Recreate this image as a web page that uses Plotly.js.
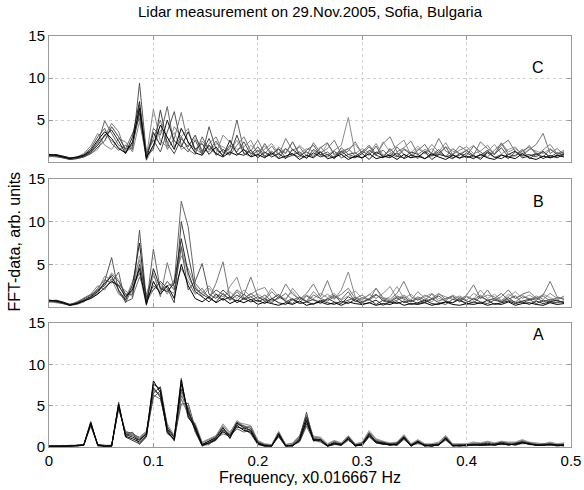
<!DOCTYPE html>
<html>
<head>
<meta charset="utf-8">
<script src="https://cdn.plot.ly/plotly-3.0.1.min.js"></script>
<style>html,body{margin:0;padding:0;background:#fff;}#chart{width:584px;height:490px;}</style>
</head>
<body>
<div id="chart"></div>
<script>
// Frequency bins (x0.016667 Hz), step 1/150
const freq = [0,0.0067,0.0133,0.02,0.0267,0.0333,0.04,0.0467,0.0533,0.06,
0.0667,0.0733,0.08,0.0867,0.0933,0.1,0.1067,0.1133,0.12,0.1267,
0.1333,0.14,0.1467,0.1533,0.16,0.1667,0.1733,0.18,0.1867,0.1933,
0.2,0.2067,0.2133,0.22,0.2267,0.2333,0.24,0.2467,0.2533,0.26,
0.2667,0.2733,0.28,0.2867,0.2933,0.3,0.3067,0.3133,0.32,0.3267,
0.3333,0.34,0.3467,0.3533,0.36,0.3667,0.3733,0.38,0.3867,0.3933,
0.4,0.4067,0.4133,0.42,0.4267,0.4333,0.44,0.4467,0.4533,0.46,
0.4667,0.4733,0.48,0.4867,0.4933];

const xTicks = [0,0.1,0.2,0.3,0.4,0.5];
const xTickText = ["0","0.1","0.2","0.3","0.4","0.5"];
const yTicksA = [0,5,10,15];
const yTicksBC = [5,10,15];
const panelLabels = ["C","B","A"];

// Panel C series
const c1 = [0.9,0.8,0.6,0.4,0.6,0.8,1.4,2.6,3.6,2.8, 1.6,1.1,2.4,6.4,0.5,2.0,4.4,3.0,1.5,4.0, 2.4,1.1,0.8,2.0,1.0,0.6,1.2,0.8,1.5,0.6, 0.9,0.5,1.1,0.4,0.7,1.0,0.3,0.8,0.5,1.2, 0.4,0.6,0.9,0.3,0.7,0.5,1.0,0.4,0.6,0.8, 0.3,0.9,0.5,0.7,0.4,1.0,0.6,0.3,0.8,0.5, 0.7,0.4,0.9,0.5,0.3,0.8,0.6,0.4,1.0,0.5, 0.3,0.7,0.5,0.8,0.6];
const c2 = [0.8,0.9,0.7,0.5,0.5,0.7,1.2,2.0,3.2,3.8, 2.5,1.0,3.0,7.2,0.3,3.5,2.0,5.0,2.5,1.8, 3.6,1.5,2.2,0.9,1.8,0.7,2.6,1.0,0.8,1.4, 0.5,1.2,0.6,1.0,0.4,1.5,0.8,0.5,1.1,0.6, 0.9,0.4,1.3,0.6,0.5,1.0,0.3,1.2,0.7,0.5, 1.1,0.4,0.8,0.6,1.2,0.3,0.9,0.7,0.4,1.0, 0.5,0.8,0.3,1.1,0.6,0.4,0.9,1.3,0.5,0.7, 1.0,0.4,0.8,0.5,0.9];
const c3 = [0.7,0.8,0.6,0.3,0.4,0.6,1.0,1.8,2.5,4.2, 3.0,1.5,2.0,5.8,0.8,1.5,6.2,2.2,1.0,2.8, 1.8,3.2,1.2,2.8,0.8,1.5,0.9,3.2,1.0,0.7, 1.4,0.6,0.9,1.6,0.5,0.8,1.2,0.4,1.5,0.9, 0.6,1.3,0.5,0.9,1.1,0.4,1.4,0.8,0.5,1.6, 0.7,0.5,1.2,0.9,0.4,0.8,1.5,0.6,0.9,0.4, 1.1,0.6,0.8,1.4,0.5,0.9,0.4,1.2,0.7,0.9, 0.6,1.3,0.5,0.7,1.0];
const c4 = [0.8,0.7,0.5,0.4,0.5,0.9,1.6,3.0,4.0,2.2, 1.4,2.0,1.5,9.4,1.0,2.6,1.2,3.6,6.0,2.0, 1.2,2.6,0.9,4.2,1.5,0.8,2.0,1.2,2.4,0.9, 1.8,0.7,1.3,0.5,1.6,0.9,0.6,1.4,2.0,0.8, 1.2,0.5,1.7,0.9,0.6,1.3,0.8,1.9,0.5,1.0, 0.6,1.5,0.9,0.4,1.3,0.7,1.0,1.8,0.5,0.8, 1.4,0.7,0.5,1.2,0.9,1.7,0.6,0.8,1.5,0.4, 0.9,1.2,0.6,1.1,0.8];
const c5 = [0.9,0.8,0.7,0.5,0.6,0.8,1.3,2.2,4.9,3.4, 2.0,1.6,3.5,5.2,0.4,4.0,3.2,6.6,1.8,3.0, 1.5,0.9,3.0,1.4,2.5,1.1,1.6,5.0,1.4,1.1, 0.7,2.2,0.9,1.5,1.0,2.4,0.8,1.2,0.6,1.7, 2.3,0.8,1.1,1.6,0.7,1.2,2.0,0.9,1.4,0.6, 1.8,0.9,0.5,1.4,2.1,0.8,1.2,0.6,1.6,1.0, 0.8,1.9,1.2,0.6,1.4,2.2,0.9,0.7,1.3,1.8, 1.1,0.6,1.5,0.9,1.2];
const c6 = [0.7,0.6,0.5,0.3,0.5,0.7,1.1,2.4,3.0,4.6, 3.6,1.2,1.8,6.8,1.2,2.8,5.0,1.5,2.8,5.9, 2.2,1.6,1.0,2.2,3.0,1.2,0.8,2.0,3.0,1.3, 2.6,1.0,1.9,0.8,2.8,1.4,1.8,0.7,2.3,1.1, 1.6,2.6,0.9,1.3,2.4,1.0,1.8,0.8,2.2,3.0, 1.2,1.7,2.5,0.9,1.5,1.1,2.8,1.3,0.9,1.9, 1.4,0.8,2.4,1.6,1.0,2.0,2.6,1.2,0.8,1.5, 2.1,3.4,1.0,1.6,0.9];
const c7 = [0.8,0.7,0.6,0.4,0.6,1.0,1.9,3.4,2.0,1.5, 2.8,2.4,1.2,4.8,0.6,6.3,2.5,1.8,4.2,3.0, 4.0,1.2,2.5,1.6,1.0,3.2,2.4,1.5,1.8,2.6, 0.9,1.5,2.2,1.0,1.6,0.7,2.0,1.2,0.8,1.8, 0.8,1.4,2.0,5.3,1.0,1.6,1.1,2.2,0.8,1.3, 2.0,2.6,0.8,1.6,1.0,2.1,1.2,2.3,0.9,1.4, 1.8,1.0,1.3,2.0,0.9,2.3,1.2,1.6,1.0,2.0, 0.8,1.5,2.1,1.0,1.2];
const c8 = [0.6,0.7,0.5,0.3,0.4,0.6,1.0,1.5,3.3,2.5, 1.8,1.0,2.2,6.0,0.2,1.8,3.8,2.4,3.5,1.5, 2.0,2.8,1.5,1.2,2.2,1.8,1.2,2.6,1.0,2.0, 1.2,1.9,0.8,1.8,1.1,2.4,1.0,1.6,1.3,0.8, 2.2,1.0,1.3,1.6,2.1,1.0,1.8,0.8,2.4,1.2, 0.8,1.6,1.1,1.9,1.0,1.6,0.8,1.8,1.3,1.0, 1.4,2.0,0.8,1.2,2.1,1.0,1.5,1.8,0.8,1.6, 1.3,1.0,1.6,1.0,1.4];

// Panel B series
const b1 = [0.8,0.7,0.5,0.2,0.4,0.7,1.0,1.5,2.2,3.0, 2.5,1.2,2.0,4.5,0.3,3.0,1.5,2.5,1.0,5.0, 2.5,1.0,0.6,1.2,0.5,1.0,0.4,0.8,0.5,0.9, 0.3,0.6,0.4,0.2,0.5,0.3,0.7,0.2,0.4,0.6, 0.3,0.5,0.2,0.6,0.4,0.3,0.5,0.2,0.4,0.3, 0.6,0.2,0.4,0.3,0.5,0.2,0.4,0.6,0.3,0.2, 0.4,0.3,0.5,0.2,0.4,0.3,0.6,0.2,0.4,0.5, 0.3,0.2,0.5,0.3,0.4];
const b2 = [0.7,0.8,0.6,0.3,0.4,0.8,1.2,1.8,2.8,3.6, 2.0,0.8,2.6,7.5,0.5,4.5,2.2,1.8,2.8,8.0, 4.0,1.8,1.2,0.6,1.5,0.8,1.2,0.5,1.0,0.6, 0.8,0.4,1.0,0.5,0.3,0.9,0.4,0.6,0.3,0.8, 0.5,0.3,0.7,0.4,0.9,0.3,0.5,0.8,0.2,0.6, 0.4,0.7,0.3,0.5,0.8,0.4,0.3,0.6,0.5,0.9, 0.3,0.6,0.4,0.8,0.3,0.5,0.7,0.4,0.6,0.3, 0.7,0.4,0.6,0.8,0.5];
const b3 = [0.8,0.6,0.4,0.2,0.5,0.9,1.4,2.0,2.5,3.8, 3.0,1.5,1.5,5.0,1.2,2.0,3.0,2.2,0.5,10.0, 6.0,2.2,1.5,1.0,0.6,1.6,0.8,1.4,0.9,1.2, 0.6,1.0,0.5,1.2,0.7,0.4,1.1,0.6,0.9,0.4, 1.0,0.6,0.4,1.2,0.7,0.5,0.9,0.3,0.8,0.6, 1.1,0.5,0.8,0.4,0.6,1.0,0.5,0.3,0.9,0.7, 0.5,1.0,0.6,0.4,0.8,0.6,1.1,0.5,0.7,0.9, 0.4,0.8,0.6,0.5,0.7];
const b4 = [0.6,0.7,0.5,0.3,0.5,0.7,1.1,1.6,3.0,5.8, 1.8,0.6,1.0,9.0,0.8,2.5,1.8,3.0,2.0,7.0, 2.0,3.0,5.1,1.5,1.0,2.0,1.2,0.7,1.5,0.8, 1.2,0.7,0.9,1.5,0.6,1.0,0.5,1.3,0.8,0.6, 0.9,1.4,0.5,0.8,1.1,0.6,1.0,1.5,0.7,0.5, 0.8,1.2,0.6,1.0,0.5,0.9,1.3,0.7,0.5,1.1, 0.7,0.5,1.2,0.8,1.0,0.6,0.9,1.3,0.5,0.8, 1.1,0.6,0.9,0.7,0.5];
const b5 = [0.7,0.6,0.5,0.2,0.3,0.6,1.2,2.2,3.2,2.8, 4.1,0.5,2.2,4.0,0.2,6.8,2.0,2.5,2.8,12.4, 9.4,2.8,1.8,1.2,2.0,1.4,0.9,1.8,1.0,1.6, 0.9,1.4,0.7,1.0,1.6,0.8,1.2,0.6,1.4,1.0, 0.7,1.2,0.9,1.8,0.6,1.1,0.8,1.4,1.0,0.7, 1.3,0.9,0.6,1.2,0.8,1.5,0.7,1.0,1.3,0.6, 1.2,0.8,1.4,0.7,1.0,1.6,0.8,0.6,1.2,1.0, 0.8,1.3,0.7,1.1,0.9];
const b6 = [0.8,0.7,0.5,0.3,0.6,1.0,1.5,2.5,2.0,3.3, 2.6,2.0,1.2,3.5,1.5,4.0,1.2,5.2,2.2,4.5, 3.0,1.5,2.2,1.0,2.8,5.3,1.0,2.0,1.4,3.5, 1.2,0.8,1.8,1.0,2.7,1.5,0.9,1.6,2.7,1.2, 3.1,1.0,1.5,2.2,1.0,1.4,0.8,2.2,1.1,0.9, 1.6,3.0,1.2,0.8,1.4,1.0,1.6,0.9,1.2,0.7, 1.4,2.6,1.0,2.0,0.8,1.2,2.0,1.0,1.5,1.8, 1.0,1.4,3.0,1.2,0.9];
const b7 = [0.6,0.5,0.4,0.2,0.4,0.7,1.3,1.9,3.6,3.2, 1.5,1.0,3.0,5.5,0.6,2.0,2.8,1.5,3.2,6.0, 4.5,2.5,1.2,2.2,1.2,0.8,2.4,3.5,1.0,1.5, 2.0,2.3,1.0,1.4,0.8,2.2,1.2,0.7,1.8,1.0, 1.5,0.9,2.0,4.1,1.2,0.8,1.5,1.0,1.6,2.4, 1.0,1.4,0.8,1.8,1.0,0.6,1.5,1.2,0.9,1.3, 0.8,1.6,1.0,1.4,1.2,0.7,1.5,1.0,1.4,0.8, 1.3,0.9,1.6,1.0,1.2];
const b8 = [0.7,0.6,0.5,0.3,0.5,0.8,1.0,2.0,2.6,4.0, 3.2,1.4,1.8,6.0,0.9,3.6,2.4,2.0,1.6,7.2, 3.5,2.0,1.6,2.5,1.5,1.2,1.8,1.0,2.0,1.2, 1.5,1.0,2.2,1.2,1.0,1.8,0.8,1.4,1.0,1.6, 1.1,1.6,0.8,1.3,1.9,1.0,1.4,2.2,0.8,1.2, 2.4,1.0,1.5,0.8,1.2,1.6,1.0,0.7,1.4,1.0, 1.3,0.9,2.0,1.0,1.5,0.8,1.2,1.8,1.0,1.4, 0.9,1.5,1.1,0.8,1.3];

// Panel A series
const a1 = [0.1,0.1,0.1,0.1,0.2,0.2,2.9,0.2,0.1,0.1, 5.2,1.3,1.0,0.6,1.4,8.0,6.6,1.8,0.9,8.1, 3.8,2.2,0.2,0.5,0.9,2.0,1.1,2.6,2.0,1.8, 0.4,0.1,0.1,1.5,0.1,0.2,0.8,3.2,0.8,0.9, 0.1,0.4,0.3,1.0,0.1,0.3,1.4,0.5,0.4,0.3, 0.3,1.1,0.1,0.6,0.2,0.1,0.3,1.0,0.1,0.2, 0.2,0.3,0.2,0.3,0.2,0.4,0.3,0.3,0.5,0.4, 0.2,0.2,0.3,0.2,0.2];
const a2 = [0.1,0.1,0.1,0.2,0.2,0.3,2.8,0.3,0.1,0.2, 4.9,1.5,1.2,0.8,1.6,7.6,7.0,2.2,1.1,7.6, 4.2,2.5,0.3,0.7,1.1,2.3,1.3,2.9,2.3,2.0, 0.5,0.2,0.1,1.6,0.2,0.1,1.0,3.6,0.9,0.8, 0.2,0.5,0.2,1.2,0.2,0.4,1.6,0.6,0.5,0.2, 0.4,1.2,0.2,0.7,0.1,0.3,0.2,1.1,0.2,0.1, 0.3,0.2,0.3,0.4,0.3,0.5,0.2,0.4,0.6,0.3, 0.3,0.2,0.4,0.2,0.3];
const a3 = [0.1,0.1,0.1,0.1,0.1,0.3,3.0,0.2,0.1,0.1, 5.4,1.2,0.8,0.4,1.2,7.2,6.0,2.0,0.8,7.0, 4.5,2.0,0.1,0.6,1.0,1.8,1.4,2.4,2.2,1.6, 0.3,0.1,0.2,1.3,0.1,0.2,0.7,2.8,1.0,0.7, 0.1,0.3,0.4,0.9,0.2,0.2,1.3,0.7,0.3,0.4, 0.2,1.0,0.2,0.5,0.3,0.1,0.4,0.9,0.2,0.2, 0.1,0.4,0.2,0.2,0.4,0.3,0.4,0.2,0.5,0.5, 0.2,0.3,0.2,0.3,0.1];
const a4 = [0.1,0.1,0.2,0.1,0.2,0.2,2.6,0.3,0.2,0.1, 5.0,1.6,1.4,0.9,1.8,6.5,7.3,2.5,1.2,8.3, 3.5,2.6,0.3,0.8,1.2,2.4,1.0,3.0,2.4,2.3, 0.6,0.2,0.2,1.7,0.1,0.3,1.1,4.2,0.7,1.0, 0.1,0.6,0.3,1.1,0.3,0.3,1.7,0.6,0.6,0.3, 0.5,1.3,0.1,0.7,0.2,0.2,0.3,1.2,0.1,0.3, 0.2,0.3,0.4,0.3,0.3,0.6,0.4,0.3,0.7,0.4, 0.3,0.3,0.3,0.2,0.3];
const a5 = [0.1,0.1,0.1,0.1,0.2,0.2,2.7,0.2,0.1,0.2, 4.6,1.8,1.7,1.0,1.5,6.0,6.8,1.6,1.0,5.2, 5.3,2.3,0.4,0.4,0.8,2.1,1.5,2.7,2.6,1.9, 0.4,0.3,0.1,1.4,0.2,0.1,0.9,3.0,1.1,0.9, 0.2,0.4,0.2,1.0,0.1,0.4,1.5,0.8,0.4,0.2, 0.3,1.1,0.3,0.6,0.1,0.2,0.2,1.0,0.3,0.1, 0.2,0.2,0.3,0.5,0.2,0.4,0.3,0.5,0.6,0.3, 0.2,0.4,0.3,0.1,0.2];
const a6 = [0.1,0.1,0.1,0.1,0.1,0.2,3.1,0.1,0.1,0.1, 5.1,1.4,1.8,0.3,1.3,7.0,6.2,2.1,0.7,6.2, 4.8,1.8,0.2,0.3,1.0,1.6,1.3,2.2,1.8,2.2, 0.5,0.2,0.2,1.2,0.1,0.2,0.6,2.5,0.8,0.6, 0.1,0.3,0.2,0.8,0.2,0.2,1.2,0.5,0.3,0.3, 0.2,0.9,0.2,0.4,0.2,0.1,0.3,0.8,0.2,0.2, 0.2,0.3,0.2,0.2,0.3,0.3,0.3,0.3,0.4,0.4, 0.2,0.2,0.3,0.2,0.2];
const a7 = [0.1,0.1,0.1,0.1,0.2,0.3,2.8,0.2,0.2,0.2, 4.8,1.7,1.5,1.2,1.9,6.3,5.8,2.4,1.3,5.8, 4.0,2.7,0.5,0.9,1.3,2.6,1.6,3.2,2.5,2.5, 0.7,0.3,0.2,1.8,0.3,0.4,1.3,3.8,1.2,1.1, 0.3,0.7,0.4,1.3,0.3,0.5,1.8,0.9,0.6,0.4, 0.5,1.4,0.3,0.8,0.3,0.3,0.5,1.3,0.3,0.3, 0.3,0.5,0.4,0.6,0.4,0.6,0.5,0.5,0.8,0.5, 0.4,0.3,0.5,0.3,0.4];
const a8 = [0.1,0.1,0.1,0.1,0.2,0.3,2.5,0.3,0.2,0.2, 4.7,1.9,1.6,1.1,1.7,6.8,6.4,2.8,1.4,6.6, 3.6,2.9,0.6,1.0,1.4,2.8,1.8,3.0,2.8,2.6, 0.8,0.4,0.3,1.9,0.3,0.5,1.4,3.4,1.3,1.2, 0.4,0.8,0.5,1.4,0.4,0.6,2.0,1.0,0.7,0.5, 0.6,1.5,0.4,0.9,0.4,0.4,0.6,1.4,0.4,0.4, 0.4,0.6,0.5,0.7,0.5,0.7,0.6,0.6,0.9,0.6, 0.5,0.4,0.6,0.4,0.5];

const seriesA = [a8,a7,a6,a5,a4,a3,a2,a1];
const seriesB = [b8,b7,b6,b5,b4,b3,b2,b1];
const seriesC = [c8,c7,c6,c5,c4,c3,c2,c1];
const greys = ['#9a9a9a','#8a8a8a','#777777','#666666','#555555','#444444','#222222','#000000'];
const greysA = ['#999999','#777777','#666666','#555555','#444444','#333333','#111111','#000000'];

const traces = [];
function addPanel(list, cols, xa, ya){
  list.forEach((s,i)=>{
    traces.push({x:freq, y:s, xaxis:xa, yaxis:ya, type:'scatter', mode:'lines',
      line:{color:cols[i], width:1}, hoverinfo:'skip', showlegend:false});
  });
}
addPanel(seriesA, greysA, 'x', 'y');
addPanel(seriesB, greys, 'x2', 'y2');
addPanel(seriesC, greys, 'x3', 'y3');

const F = 'Liberation Sans, Arial, sans-serif';
const axBase = {
  range:[0,0.5], showline:true, mirror:'allticks', linecolor:'#9a9a9a', linewidth:1,
  ticks:'inside', ticklen:4, tickcolor:'#9a9a9a', showgrid:true, gridcolor:'#cfcfcf',
  griddash:'dot', gridwidth:1, zeroline:false, tickvals:xTicks, ticktext:xTickText,
  tickfont:{family:F, size:15, color:'#000'}
};
const ayBase = {
  range:[0,15], showline:true, mirror:'allticks', linecolor:'#9a9a9a', linewidth:1,
  ticks:'inside', ticklen:4, tickcolor:'#9a9a9a', showgrid:true, gridcolor:'#cfcfcf',
  griddash:'dot', gridwidth:1, zeroline:false,
  tickfont:{family:F, size:15, color:'#000'}
};

const layout = {
  width:584, height:490, paper_bgcolor:'#fff', plot_bgcolor:'#fff',
  margin:{l:49, r:13, t:36, b:43},
  showlegend:false,
  title:{text:'Lidar measurement on 29.Nov.2005, Sofia, Bulgaria', font:{family:F, size:15, color:'#000'},
    x:0.5, xref:'paper', y:1-12/490, yref:'container', yanchor:'middle'},
  xaxis: Object.assign({}, axBase, {anchor:'y', showticklabels:true}),
  xaxis2: Object.assign({}, axBase, {anchor:'y2', showticklabels:false}),
  xaxis3: Object.assign({}, axBase, {anchor:'y3', showticklabels:false}),
  yaxis: Object.assign({}, ayBase, {domain:[0,0.3017], anchor:'x', tickvals:yTicksA}),
  yaxis2: Object.assign({}, ayBase, {domain:[0.3406,0.6521], anchor:'x2', tickvals:yTicksBC}),
  yaxis3: Object.assign({}, ayBase, {domain:[0.6934,1], anchor:'x3', tickvals:yTicksBC}),
  annotations:[
    {text:panelLabels[0], xref:'paper', yref:'paper', x:0.953, y:0.949, showarrow:false, font:{family:F, size:16, color:'#000'}},
    {text:panelLabels[1], xref:'paper', yref:'paper', x:0.953, y:0.5985, showarrow:false, font:{family:F, size:16, color:'#000'}},
    {text:panelLabels[2], xref:'paper', yref:'paper', x:0.953, y:0.248, showarrow:false, font:{family:F, size:16, color:'#000'}},
    {text:'Frequency, x0.016667 Hz', xref:'paper', yref:'paper', x:0.5, y:-0.0754, yanchor:'middle', showarrow:false, font:{family:F, size:16, color:'#000'}},
    {text:'FFT-data, arb. units', xref:'paper', yref:'paper', x:-0.067, y:0.5, textangle:-90, xanchor:'center', yanchor:'middle', showarrow:false, font:{family:F, size:16, color:'#000'}}
  ]
};

Plotly.newPlot('chart', traces, layout, {displayModeBar:false, staticPlot:true});
</script>
</body>
</html>
